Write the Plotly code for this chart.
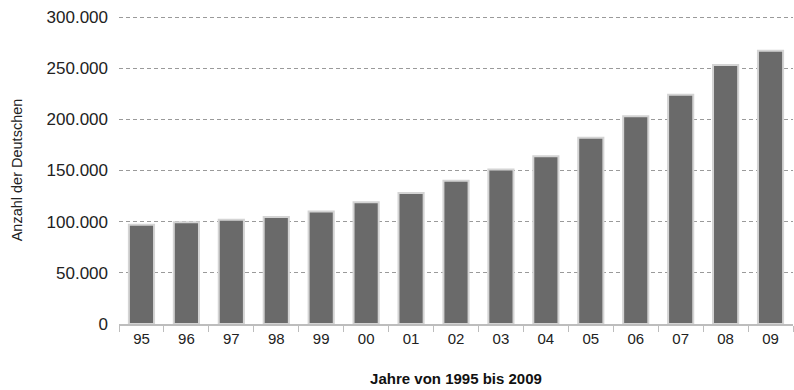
import plotly.graph_objects as go

# Jahre (zweistellig) und Anzahl der Deutschen
jahre = ["95", "96", "97", "98", "99", "00", "01", "02", "03", "04", "05", "06", "07", "08", "09"]
anzahl = [97000, 99500, 102000, 104500, 110000, 119000, 128000, 140000, 151000,
          164000, 182000, 203000, 224000, 253000, 267000]
y_ticks = [0, 50000, 100000, 150000, 200000, 250000, 300000]

fig = go.Figure()
fig.add_trace(go.Bar(
    x=jahre,
    y=anzahl,
    width=0.56,
    marker=dict(color="#6a6a6a", line=dict(color="#d4d4d4", width=2)),
    hoverinfo="x+y",
))

font_family = "Liberation Sans, Arial, sans-serif"

fig.update_layout(
    width=794,
    height=390,
    margin=dict(l=119, r=1, t=16, b=66),
    plot_bgcolor="white",
    paper_bgcolor="white",
    separators=",.",
    showlegend=False,
    font=dict(family=font_family, color="#222222"),
    bargap=0.44,
)

fig.update_xaxes(
    type="category",
    showgrid=False,
    showline=True,
    linecolor="#bdbdbd",
    linewidth=1.5,
    ticks="outside",
    tickson="boundaries",
    ticklen=6,
    tickcolor="#bdbdbd",
    tickfont=dict(size=15, color="#222222"),
    title=dict(text="<b>Jahre von 1995 bis 2009</b>", font=dict(size=15, color="#111111"), standoff=28),
)

# kleine Reserve oben, damit die 300.000-Linie sichtbar bleibt
fig.update_yaxes(
    range=[0, 301000],
    tickvals=y_ticks,
    tickformat=",d",
    showgrid=True,
    gridcolor="#9a9a9a",
    griddash="4px,3px",
    gridwidth=1,
    zeroline=False,
    showline=False,
    ticks="",
    ticklabelstandoff=10,
    tickfont=dict(size=17, color="#222222"),
    title=dict(text="Anzahl der Deutschen", font=dict(size=14.5, color="#222222"), standoff=20),
)

fig.write_html("out.html")
